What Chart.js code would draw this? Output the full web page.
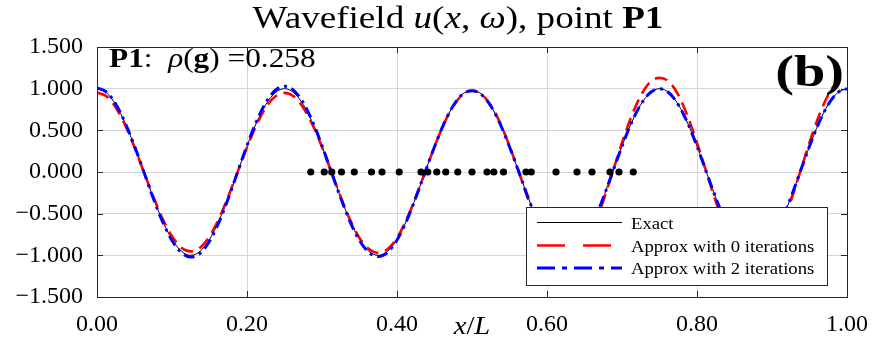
<!DOCTYPE html>
<html>
<head>
<meta charset="utf-8">
<script src="https://cdn.jsdelivr.net/npm/chart.js@4.4.1/dist/chart.umd.min.js"></script>
<style>
  html, body { margin: 0; padding: 0; background: #fff; }
  #wrap { width: 872px; height: 347px; }
</style>
</head>
<body>
<div id="wrap"><canvas id="waveChart"></canvas></div>
<script>
// sample positions x/L
const xSamples = [0.0000,0.0125,0.0250,0.0375,0.0500,0.0625,0.0750,0.0875,0.1000,0.1125,
  0.1250,0.1375,0.1500,0.1625,0.1750,0.1875,0.2000,0.2125,0.2250,0.2375,
  0.2500,0.2625,0.2750,0.2875,0.3000,0.3125,0.3250,0.3375,0.3500,0.3625,
  0.3750,0.3875,0.4000,0.4125,0.4250,0.4375,0.4500,0.4625,0.4750,0.4875,
  0.5000,0.5125,0.5250,0.5375,0.5500,0.5625,0.5750,0.5875,0.6000,0.6125,
  0.6250,0.6375,0.6500,0.6625,0.6750,0.6875,0.7000,0.7125,0.7250,0.7375,
  0.7500,0.7625,0.7750,0.7875,0.8000,0.8125,0.8250,0.8375,0.8500,0.8625,
  0.8750,0.8875,0.9000,0.9125,0.9250,0.9375,0.9500,0.9625,0.9750,0.9875,1.0000];

// Exact wavefield
const exactValues = [1.000,0.951,0.809,0.588,0.309,0.000,-0.309,-0.588,-0.809,-0.951,
  -1.000,-0.951,-0.809,-0.588,-0.309,0.000,0.309,0.588,0.809,0.951,
  1.000,0.951,0.809,0.588,0.309,0.000,-0.309,-0.588,-0.809,-0.951,
  -1.000,-0.951,-0.809,-0.588,-0.309,0.000,0.305,0.580,0.795,0.935,
  0.980,0.935,0.795,0.580,0.305,0.000,-0.309,-0.588,-0.809,-0.951,
  -1.000,-0.951,-0.809,-0.588,-0.309,0.000,0.309,0.588,0.809,0.951,
  1.000,0.951,0.809,0.588,0.309,0.000,-0.309,-0.588,-0.809,-0.951,
  -1.000,-0.951,-0.809,-0.588,-0.309,0.000,0.309,0.588,0.809,0.951,1.000];

// Approx with 0 iterations
const approx0Values = [0.955,0.910,0.775,0.565,0.297,0.000,-0.295,-0.562,-0.772,-0.908,
  -0.953,-0.908,-0.772,-0.562,-0.295,0.000,0.295,0.562,0.772,0.905,
  0.950,0.905,0.772,0.565,0.300,0.000,-0.300,-0.575,-0.790,-0.925,
  -0.970,-0.925,-0.790,-0.575,-0.302,0.000,0.302,0.575,0.790,0.928,
  0.975,0.935,0.800,0.590,0.312,0.000,-0.330,-0.630,-0.880,-1.040,
  -1.100,-1.060,-0.900,-0.660,-0.350,0.000,0.350,0.665,0.915,1.080,
  1.130,1.085,0.925,0.670,0.352,0.000,-0.352,-0.670,-0.920,-1.080,
  -1.130,-1.080,-0.920,-0.670,-0.352,0.000,0.355,0.672,0.925,1.085,1.140];

// Approx with 2 iterations
const approx2Values = [1.010,0.960,0.815,0.592,0.311,0.000,-0.315,-0.598,-0.822,-0.968,
  -1.020,-0.975,-0.830,-0.604,-0.318,0.000,0.318,0.604,0.832,0.978,
  1.030,0.978,0.830,0.602,0.316,0.000,-0.314,-0.598,-0.822,-0.966,
  -1.015,-0.962,-0.817,-0.592,-0.309,0.000,0.303,0.578,0.795,0.934,
  0.975,0.930,0.792,0.577,0.303,0.000,-0.310,-0.590,-0.812,-0.955,
  -1.005,-0.955,-0.812,-0.590,-0.310,0.000,0.309,0.588,0.809,0.951,
  1.000,0.951,0.809,0.588,0.309,0.000,-0.309,-0.588,-0.809,-0.951,
  -1.000,-0.951,-0.809,-0.588,-0.309,0.000,0.309,0.588,0.809,0.951,1.000];

// black sample points along the axis
const sensorX = [0.285,0.303,0.313,0.326,0.343,0.366,0.380,0.403,0.432,0.441,
  0.453,0.465,0.481,0.500,0.520,0.529,0.542,0.572,0.579,0.612,
  0.640,0.660,0.684,0.696,0.715];
const sensorY = [0,0,0,0,0,0,0,0,0,0,0,0,0,0,0,0,0,0,0,0,0,0,0,0,0];

const xTicks = [0, 0.2, 0.4, 0.6, 0.8, 1.0];
const yTicks = [-1.5, -1.0, -0.5, 0, 0.5, 1.0, 1.5];

const SERIF = '"Liberation Serif", "DejaVu Serif", serif';
const INK = '#000000';

function lineSet(label, ys, color, width, dash, order) {
    return {
        type: 'line',
        label: label,
        data: xSamples.map((x, i) => ({ x: x, y: ys[i] })),
        borderColor: color,
        backgroundColor: color,
        borderWidth: width,
        borderDash: dash,
        borderCapStyle: 'butt',
        pointRadius: 0,
        cubicInterpolationMode: 'monotone',
        fill: false,
        order: order
    };
}

// draws text made of pieces with their own font, stretched sideways by sx
function drawRich(ctx, parts, x, y, align, sx) {
    sx = sx || 1;
    let w = 0;
    parts.forEach(p => { ctx.font = p.font; w += ctx.measureText(p.text).width; });
    w *= sx;
    let x0 = align === 'center' ? x - w / 2 : (align === 'right' ? x - w : x);
    ctx.save();
    ctx.translate(x0, y);
    ctx.scale(sx, 1);
    ctx.textAlign = 'left';
    ctx.textBaseline = 'alphabetic';
    let cx = 0;
    parts.forEach(p => {
        ctx.font = p.font;
        ctx.fillText(p.text, cx, 0);
        cx += ctx.measureText(p.text).width;
    });
    ctx.restore();
}

// box, inward ticks, legend and texts
const decorPlugin = {
    id: 'decor',
    afterDatasetsDraw(chart) {
        const ctx = chart.ctx;
        const a = chart.chartArea;
        const xs = chart.scales.x, ys = chart.scales.y;
        ctx.save();
        ctx.strokeStyle = '#262626';
        ctx.lineWidth = 1;
        ctx.setLineDash([]);
        ctx.beginPath();
        xTicks.forEach(v => {
            const px = Math.round(xs.getPixelForValue(v)) + 0.5;
            ctx.moveTo(px, a.bottom); ctx.lineTo(px, a.bottom - 6);
            ctx.moveTo(px, a.top); ctx.lineTo(px, a.top + 6);
        });
        yTicks.forEach(v => {
            const py = Math.round(ys.getPixelForValue(v)) + 0.5;
            ctx.moveTo(a.left, py); ctx.lineTo(a.left + 6, py);
            ctx.moveTo(a.right, py); ctx.lineTo(a.right - 6, py);
        });
        ctx.stroke();
        ctx.strokeRect(Math.round(a.left) + 0.5, Math.round(a.top) + 0.5,
            Math.round(a.right - a.left), Math.round(a.bottom - a.top));

        // legend
        const lx = 526.5, ly = 207.5, lw = 301, lh = 78;
        ctx.fillStyle = '#ffffff';
        ctx.fillRect(lx, ly, lw, lh);
        ctx.strokeStyle = '#262626';
        ctx.strokeRect(lx, ly, lw, lh);
        const rows = [222.5, 245.5, 268];
        chart.data.datasets.slice(0, 3).forEach((ds, i) => {
            ctx.save();
            ctx.strokeStyle = ds.borderColor;
            ctx.lineWidth = ds.borderWidth;
            ctx.setLineDash(i === 1 ? [28, 18] : (i === 2 ? [18, 7, 5, 7] : []));
            ctx.beginPath();
            ctx.moveTo(537, rows[i]);
            ctx.lineTo(622, rows[i]);
            ctx.stroke();
            ctx.restore();
            ctx.fillStyle = INK;
            drawRich(ctx, [{ text: ds.label, font: '17px ' + SERIF }], 631, rows[i] + 6, 'left', 1.1);
        });
        ctx.restore();
    },
    afterDraw(chart) {
        const ctx = chart.ctx;
        const a = chart.chartArea;
        ctx.save();
        ctx.fillStyle = INK;
        const f = 32;
        drawRich(ctx, [
            { text: 'Wavefield ', font: f + 'px ' + SERIF },
            { text: 'u', font: 'italic ' + f + 'px ' + SERIF },
            { text: '(', font: f + 'px ' + SERIF },
            { text: 'x', font: 'italic ' + f + 'px ' + SERIF },
            { text: ', ', font: f + 'px ' + SERIF },
            { text: 'ω', font: 'italic ' + f + 'px ' + SERIF },
            { text: '), point ', font: f + 'px ' + SERIF },
            { text: 'P1', font: 'bold ' + f + 'px ' + SERIF }
        ], 458, 28, 'center', 1.16);

        const g = 27;
        drawRich(ctx, [
            { text: 'P1', font: 'bold ' + g + 'px ' + SERIF },
            { text: ':  ', font: g + 'px ' + SERIF },
            { text: 'ρ', font: 'italic ' + g + 'px ' + SERIF },
            { text: '(', font: g + 'px ' + SERIF },
            { text: 'g', font: 'bold ' + g + 'px ' + SERIF },
            { text: ') =0.258', font: g + 'px ' + SERIF }
        ], 109, 67, 'left', 1.16);

        drawRich(ctx, [{ text: '(b)', font: 'bold 44px ' + SERIF }], 844, 86, 'right', 1.28);

        drawRich(ctx, [
            { text: 'x', font: 'italic 26px ' + SERIF },
            { text: '/', font: '26px ' + SERIF },
            { text: 'L', font: 'italic 26px ' + SERIF }
        ], (a.left + a.right) / 2, 334, 'center', 1.1);
        ctx.restore();
    }
};

const tickFont = { family: SERIF, size: 24 };
const gridColor = '#d6d6d6';

const ctx = document.getElementById('waveChart').getContext('2d');
const waveChart = new Chart(ctx, {
    type: 'line',
    data: {
        datasets: [
            lineSet('Exact', exactValues, '#000000', 1, [], 3),
            lineSet('Approx with 0 iterations', approx0Values, '#ff0000', 2.6, [13, 7], 2),
            lineSet('Approx with 2 iterations', approx2Values, '#0000ff', 3, [11, 5, 3, 5], 1),
            {
                type: 'scatter',
                label: 'points',
                data: sensorX.map((x, i) => ({ x: x, y: sensorY[i] })),
                backgroundColor: '#000000',
                borderColor: '#000000',
                pointRadius: 3.6,
                borderWidth: 0,
                showLine: false,
                order: 0
            }
        ]
    },
    options: {
        responsive: true,
        maintainAspectRatio: false,
        animation: false,
        layout: { padding: { left: 0, top: 47, right: 25, bottom: 0 } },
        plugins: {
            legend: { display: false },
            title: { display: false },
            tooltip: { enabled: false }
        },
        scales: {
            x: {
                type: 'linear',
                min: 0,
                max: 1,
                afterBuildTicks: s => { s.ticks = xTicks.map(v => ({ value: v })); },
                afterFit: s => { s.height = 50; s.paddingLeft = 0; s.paddingRight = 0; },
                ticks: {
                    callback: v => v.toFixed(2),
                    font: tickFont,
                    color: INK,
                    padding: 13,
                    maxRotation: 0,
                    autoSkip: false
                },
                grid: { color: gridColor, lineWidth: 1, drawTicks: false },
                border: { display: false }
            },
            y: {
                type: 'linear',
                min: -1.5,
                max: 1.5,
                afterBuildTicks: s => { s.ticks = yTicks.map(v => ({ value: v })); },
                afterFit: s => { s.width = 97; s.paddingTop = 0; s.paddingBottom = 0; },
                ticks: {
                    callback: v => (v < 0 ? '\u2212' : '') + Math.abs(v).toFixed(3),
                    font: tickFont,
                    color: INK,
                    padding: 14,
                    autoSkip: false
                },
                grid: { color: gridColor, lineWidth: 1, drawTicks: false },
                border: { display: false }
            }
        }
    },
    plugins: [decorPlugin]
});
</script>
</body>
</html>
